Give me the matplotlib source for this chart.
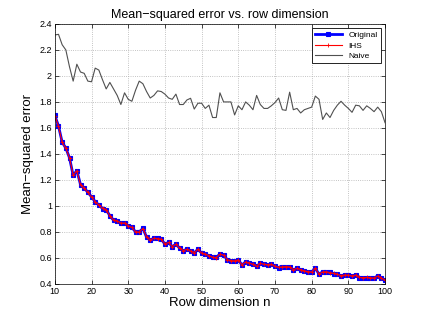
import numpy as np
import matplotlib
matplotlib.use("Agg")
import matplotlib.pyplot as plt
from matplotlib.ticker import FuncFormatter

plt.rcParams['font.family'] = ['Liberation Sans', 'DejaVu Sans']

# row dimension n
n = np.arange(10, 101)

# mean-squared error
original = [1.697, 1.615, 1.49, 1.445, 1.37, 1.234, 1.272, 1.164, 1.138, 1.105,
            1.07, 1.033, 1.007, 0.98, 0.97, 0.925, 0.89, 0.886, 0.868, 0.868,
            0.848, 0.835, 0.80, 0.80, 0.827, 0.76, 0.737, 0.752, 0.75, 0.745,
            0.706, 0.72, 0.686, 0.706, 0.675, 0.655, 0.667, 0.652, 0.639, 0.667,
            0.637, 0.63, 0.617, 0.604, 0.604, 0.63, 0.622, 0.586, 0.578, 0.578,
            0.586, 0.545, 0.57, 0.56, 0.552, 0.534, 0.56, 0.552, 0.547, 0.552,
            0.534, 0.526, 0.532, 0.532, 0.532, 0.508, 0.52, 0.508, 0.50, 0.493,
            0.493, 0.52, 0.475, 0.493, 0.493, 0.488, 0.48, 0.475, 0.462, 0.47,
            0.467, 0.462, 0.47, 0.449, 0.449, 0.449, 0.449, 0.444, 0.462, 0.444,
            0.428]
ihs = [1.695, 1.612, 1.488, 1.443, 1.368, 1.236, 1.27, 1.162, 1.137, 1.104,
       1.069, 1.032, 1.006, 0.981, 0.969, 0.924, 0.891, 0.885, 0.867, 0.869,
       0.847, 0.834, 0.801, 0.799, 0.826, 0.761, 0.738, 0.751, 0.749, 0.744,
       0.707, 0.719, 0.687, 0.705, 0.676, 0.656, 0.666, 0.653, 0.64, 0.666,
       0.638, 0.629, 0.618, 0.605, 0.603, 0.629, 0.621, 0.587, 0.579, 0.577,
       0.585, 0.546, 0.569, 0.561, 0.551, 0.535, 0.559, 0.551, 0.548, 0.551,
       0.535, 0.527, 0.531, 0.533, 0.531, 0.509, 0.519, 0.509, 0.501, 0.494,
       0.492, 0.519, 0.476, 0.492, 0.494, 0.487, 0.481, 0.474, 0.463, 0.469,
       0.468, 0.461, 0.469, 0.45, 0.448, 0.45, 0.448, 0.445, 0.461, 0.445,
       0.429]
naive = [2.315, 2.32, 2.24, 2.20, 2.07, 1.96, 2.09, 2.03, 2.02, 1.96,
         1.955, 2.06, 2.045, 1.97, 1.90, 1.95, 1.90, 1.85, 1.78, 1.87,
         1.82, 1.805, 1.89, 1.96, 1.94, 1.88, 1.83, 1.85, 1.885, 1.88,
         1.86, 1.83, 1.82, 1.86, 1.78, 1.78, 1.815, 1.828, 1.745, 1.79,
         1.79, 1.75, 1.775, 1.68, 1.68, 1.87, 1.80, 1.80, 1.80, 1.70,
         1.77, 1.74, 1.80, 1.775, 1.74, 1.85, 1.78, 1.75, 1.75, 1.77,
         1.795, 1.83, 1.74, 1.735, 1.875, 1.74, 1.75, 1.715, 1.74, 1.75,
         1.76, 1.845, 1.82, 1.665, 1.715, 1.68, 1.735, 1.775, 1.805, 1.775,
         1.75, 1.72, 1.775, 1.77, 1.735, 1.77, 1.75, 1.725, 1.76, 1.725,
         1.64]

fig = plt.figure(figsize=(4.25, 3.19), dpi=100)
ax = fig.add_axes([0.129, 0.11, 0.777, 0.815])

ax.plot(n, original, color='blue', lw=2, marker='s', ms=2.5, mew=0.8, label='Original')
ax.plot(n, ihs, color='red', lw=0.8, marker='+', ms=3.5, mew=0.6, label='IHS')
ax.plot(n, naive, color='#505050', lw=0.8, label='Naive')

ax.set_xlim(10, 100)
ax.set_ylim(0.4, 2.4)
ax.set_xticks(np.arange(10, 101, 10))
ax.set_yticks(np.arange(0.4, 2.41, 0.2))
ax.yaxis.set_major_formatter(FuncFormatter(lambda v, p: '%g' % round(v, 1)))
ax.tick_params(direction='in', length=3, width=0.5, labelsize=6.5, pad=2,
               top=True, right=True)
ax.grid(True, linestyle=':', color='#b0b0b0', lw=0.6)
for s in ax.spines.values():
    s.set_linewidth(0.5)

ax.set_title('Mean\u2212squared error vs. row dimension', fontsize=9, pad=4)
ax.set_xlabel('Row dimension n', fontsize=9.5, labelpad=1)
ax.set_ylabel('Mean\u2212squared error', fontsize=9.5, labelpad=4)

leg = ax.legend(loc='upper right', fontsize=6, fancybox=False, framealpha=1,
                edgecolor='black', borderpad=0.4, handlelength=3.2,
                labelspacing=0.3, borderaxespad=0.5)
leg.get_frame().set_linewidth(0.6)

fig.savefig('out.png', dpi=100)
